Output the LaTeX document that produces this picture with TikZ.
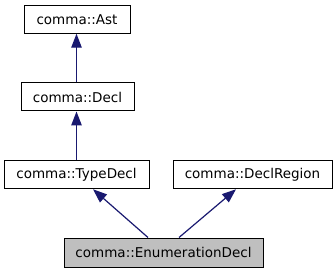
\documentclass[tikz,border=0pt]{standalone}
\usepackage{fontspec}
\setmainfont{DejaVu Sans}
\usetikzlibrary{arrows.meta,calc}
\definecolor{edgeblue}{HTML}{191970}
\definecolor{curgray}{HTML}{BFBFBF}
\begin{document}
\begin{tikzpicture}[x=1pt,y=-1pt,
  cls/.style={draw=black,line width=1pt,fill=white,inner sep=0pt,
    font=\fontsize{13.5}{16}\selectfont,text=black},
  inh/.style={draw=edgeblue,line width=1.2pt,
    -{Triangle[length=14pt,width=10.5pt,fill=edgeblue]}}]
\useasboundingbox (0,0) rectangle (336,272);
\node[cls,minimum width=106pt,minimum height=27.5pt] (ast) at (77,19.5) {comma::Ast};
\node[cls,minimum width=113pt,minimum height=28pt] (decl) at (77.5,97) {comma::Decl};
\node[cls,minimum width=145pt,minimum height=28.5pt] (type) at (76.5,174.5) {comma::TypeDecl};
\node[cls,minimum width=159pt,minimum height=28.5pt] (region) at (252.5,174.5) {comma::DeclRegion};
\node[cls,fill=curgray,minimum width=199pt,minimum height=29pt] (enum) at (163.5,252.5) {comma::EnumerationDecl};
\draw[inh] (decl.north -| type.north) -- (ast.south -| type.north);
\draw[inh] (type.north) -- (decl.south -| type.north);
\draw[inh] ($(enum.north)+(-15.5,0)$) -- ($(type.south)+(16.5,0)$);
\draw[inh] ($(enum.north)+(15.5,0)$) -- ($(region.south)+(-16.5,0)$);
\end{tikzpicture}
\end{document}
